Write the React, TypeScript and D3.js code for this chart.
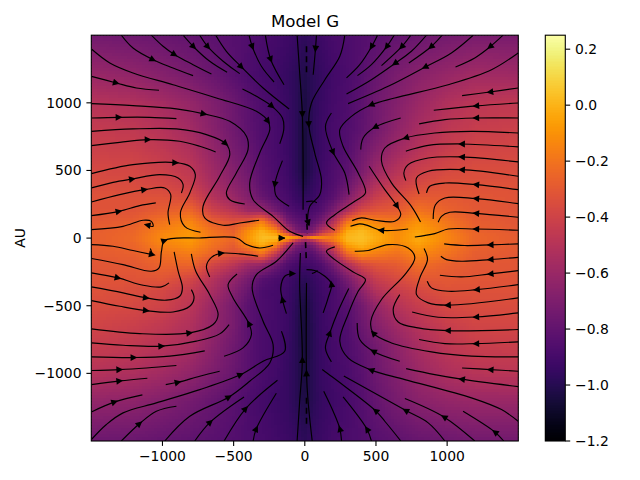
import React, { useMemo } from "react";
import * as d3 from "d3";

type Pt = [number, number];

const gridX = [-1500,-1200,-1000,-800,-650,-500,-400,-300,-200,-120,-60,0,60,120,200,300,400,500,650,800,1000,1200,1500];
const gridY = [1500,1200,1000,800,650,500,400,300,200,120,50,20,0,-20,-50,-120,-200,-300,-400,-500,-650,-800,-1000,-1200,-1500];
const heat = [
[-.74,-.76,-.78,-.80,-.82,-.84,-.86,-.88,-.90,-.92,-.94,-.97,-.94,-.92,-.89,-.87,-.85,-.83,-.80,-.77,-.74,-.72,-.72],
[-.60,-.63,-.67,-.72,-.77,-.83,-.87,-.90,-.92,-.95,-.98,-1.02,-.98,-.95,-.91,-.88,-.84,-.78,-.71,-.66,-.61,-.57,-.58],
[-.50,-.52,-.56,-.62,-.69,-.76,-.82,-.87,-.90,-.94,-.98,-1.04,-.98,-.94,-.90,-.87,-.82,-.75,-.68,-.60,-.52,-.48,-.46],
[-.44,-.46,-.50,-.57,-.66,-.75,-.81,-.86,-.89,-.93,-.98,-1.05,-.98,-.93,-.89,-.86,-.81,-.74,-.64,-.55,-.47,-.43,-.41],
[-.41,-.42,-.46,-.52,-.62,-.72,-.78,-.85,-.89,-.93,-.98,-1.05,-.98,-.93,-.89,-.85,-.76,-.68,-.58,-.50,-.43,-.39,-.38],
[-.37,-.38,-.41,-.47,-.58,-.68,-.75,-.83,-.88,-.92,-.98,-1.05,-.98,-.92,-.87,-.82,-.72,-.60,-.50,-.42,-.37,-.35,-.35],
[-.35,-.36,-.38,-.43,-.55,-.65,-.72,-.82,-.87,-.91,-.96,-1.02,-.96,-.91,-.86,-.78,-.65,-.52,-.44,-.37,-.33,-.33,-.33],
[-.33,-.33,-.33,-.36,-.50,-.60,-.68,-.78,-.85,-.89,-.94,-.97,-.94,-.89,-.83,-.70,-.55,-.43,-.36,-.29,-.30,-.31,-.32],
[-.32,-.32,-.28,-.24,-.40,-.48,-.58,-.60,-.74,-.84,-.88,-.91,-.88,-.84,-.72,-.52,-.36,-.31,-.29,-.20,-.26,-.30,-.32],
[-.30,-.28,-.20,-.14,-.27,-.33,-.28,-.15,-.42,-.72,-.80,-.84,-.82,-.72,-.52,-.20,-.09,-.15,-.19,-.10,-.19,-.28,-.31],
[-.28,-.25,-.15,-.09,-.20,-.27,-.12,.0,-.12,-.48,-.70,-.78,-.70,-.50,-.34,-.03,.02,-.05,-.13,-.05,-.16,-.26,-.30],
[-.28,-.24,-.13,-.08,-.19,-.25,-.1,.02,-.02,-.2,-.45,-.6,-.5,-.3,-.2,.0,.03,-.03,-.12,-.03,-.14,-.25,-.29],
[-.28,-.24,-.13,-.07,-.19,-.25,-.09,.03,.02,-.04,-.08,-.25,-.06,-.12,-.16,.01,.04,-.02,-.12,-.03,-.14,-.25,-.29],
[-.28,-.24,-.13,-.08,-.19,-.25,-.1,.02,-.03,-.2,-.45,-.6,-.5,-.3,-.2,.0,.03,-.03,-.12,-.03,-.14,-.25,-.29],
[-.28,-.25,-.15,-.10,-.2,-.28,-.14,-.01,-.14,-.5,-.7,-.78,-.72,-.52,-.36,-.05,.01,-.06,-.14,-.06,-.16,-.26,-.29],
[-.29,-.27,-.21,-.17,-.25,-.33,-.32,-.2,-.46,-.74,-.82,-.85,-.84,-.74,-.56,-.24,-.12,-.17,-.21,-.13,-.2,-.28,-.3],
[-.31,-.3,-.26,-.25,-.38,-.48,-.58,-.62,-.76,-.86,-.9,-.92,-.9,-.86,-.74,-.54,-.38,-.32,-.29,-.22,-.27,-.3,-.31],
[-.32,-.32,-.31,-.38,-.5,-.62,-.72,-.83,-.88,-.91,-.95,-.98,-.95,-.91,-.86,-.72,-.56,-.43,-.36,-.3,-.3,-.31,-.32],
[-.33,-.35,-.38,-.45,-.55,-.68,-.78,-.88,-.9,-.92,-.97,-1.02,-.97,-.92,-.89,-.8,-.66,-.52,-.44,-.38,-.33,-.33,-.33],
[-.35,-.37,-.4,-.48,-.6,-.72,-.82,-.87,-.9,-.93,-.98,-1.05,-.98,-.93,-.88,-.84,-.74,-.62,-.5,-.43,-.37,-.35,-.35],
[-.39,-.42,-.46,-.52,-.62,-.72,-.82,-.88,-.9,-.93,-.99,-1.06,-.99,-.93,-.9,-.86,-.77,-.68,-.58,-.5,-.43,-.39,-.38],
[-.43,-.46,-.5,-.55,-.65,-.75,-.82,-.88,-.9,-.94,-.99,-1.06,-.99,-.94,-.9,-.87,-.81,-.74,-.64,-.55,-.47,-.43,-.42],
[-.5,-.53,-.57,-.63,-.7,-.77,-.83,-.88,-.91,-.95,-.99,-1.05,-.99,-.94,-.91,-.88,-.83,-.76,-.68,-.6,-.53,-.49,-.48],
[-.62,-.64,-.68,-.73,-.78,-.83,-.87,-.9,-.93,-.95,-.99,-1.03,-.99,-.95,-.92,-.89,-.85,-.79,-.72,-.66,-.62,-.6,-.6],
[-.76,-.77,-.79,-.81,-.83,-.85,-.87,-.89,-.91,-.93,-.95,-.98,-.95,-.93,-.9,-.88,-.86,-.84,-.81,-.78,-.76,-.74,-.74],
];

// streamlines in AU, in flow order; the number is the index of the point carrying the arrowhead
const streamsTopLeft: [number, Pt[]][] = [
[2,[[-1289,1500],[-1207,1405],[-1066,1319],[-926,1258],[-785,1201]]],
[2,[[-1078,1500],[-996,1418],[-914,1356],[-785,1282],[-656,1213]]],
[1,[[-855,1500],[-780,1413],[-668,1307],[-546,1226]]],
[1,[[-738,1500],[-680,1413],[-574,1307],[-457,1216]]],
[2,[[-626,1500],[-551,1381],[-445,1265],[-293,1110],[-110,955]]],
[1,[[-392,1500],[-368,1413],[-305,1270],[-216,1154]]],
[1,[[-277,1500],[-239,1319],[-146,1134]]],
[6,[[-1499,1398],[-1370,1295],[-1207,1221],[-926,1134],[-621,1036],[-340,937],[-258,863],[-246,802],[-317,629],[-387,408],[-363,284],[-223,161],[-106,50],[-12,13]]],
[1,[[-1499,1196],[-1324,1147],[-1183,1110],[-1024,1093]]],
[2,[[-438,1102],[-340,1048],[-230,974],[-157,888],[-148,802],[-176,698]]],
[3,[[-1499,994],[-1207,979],[-902,955],[-708,918],[-527,863],[-410,753],[-399,654],[-481,481],[-551,334],[-527,284],[-422,252]]],
[1,[[-1499,888],[-1305,893],[-1089,893],[-902,883]]],
[4,[[-1499,789],[-1207,807],[-902,807],[-691,765],[-555,698],[-527,617],[-598,457],[-715,235],[-703,149],[-574,95],[-457,112],[-321,132]]],
[2,[[-1499,684],[-1300,708],[-1101,728],[-879,716],[-738,679],[-626,637]]],
[2,[[-1499,477],[-1207,543],[-907,558],[-808,531],[-769,469],[-808,334],[-874,186],[-844,87],[-733,43]]],
[2,[[-1499,371],[-1347,412],[-1211,437],[-1019,469],[-890,445],[-855,395],[-867,334]]],
[2,[[-1499,267],[-1300,321],[-1125,358],[-984,371],[-942,321],[-961,186],[-949,100]]],
[1,[[-1499,166],[-1305,198],[-1160,240],[-1047,260]]],
[5,[[-1499,63],[-1277,87],[-1136,132],[-1078,124],[-1066,87],[-1108,97]]],
[1,[[-157,573],[-211,395],[-200,309],[-110,235]]],
[2,[[-54,1500],[-36,1221],[-17,913],[-12,555],[-12,210]]],
];

const streamsTopRight: [number, Pt[]][] = [
[1,[[82,1500],[75,1398],[59,1208]]],
[4,[[281,1500],[246,1344],[141,1171],[47,999],[28,839],[70,629],[117,432],[105,321],[35,235],[19,136]]],
[1,[[511,1500],[468,1413],[386,1282],[293,1184]]],
[1,[[628,1500],[574,1413],[468,1282],[370,1201]]],
[1,[[745,1500],[679,1413],[539,1275]]],
[2,[[855,1500],[749,1381],[632,1290],[468,1171],[293,1065]]],
[1,[[965,1500],[885,1413],[731,1295]]],
[2,[[1183,1500],[1030,1369],[843,1263],[586,1122],[304,994]]],
[1,[[1393,1500],[1300,1413],[1194,1332],[1059,1265]]],
[4,[[1499,1369],[1312,1245],[1007,1134],[632,1036],[464,984],[328,900],[246,802],[269,679],[375,481],[426,334],[351,272],[211,173],[152,112],[211,58]]],
[1,[[1499,1110],[1300,1080],[1105,1053]]],
[1,[[1499,999],[1201,977],[906,945]]],
[1,[[1499,888],[1201,888],[984,876],[803,844]]],
[1,[[674,888],[492,819],[410,740],[393,654]]],
[3,[[1499,777],[1171,789],[913,777],[707,740],[562,666],[539,568],[609,408],[749,235],[813,119]]],
[1,[[1499,674],[1101,696],[867,686],[710,642]]],
[1,[[1499,563],[1101,600],[867,592],[726,543],[696,481],[710,425]]],
[1,[[1499,457],[1101,506],[867,494],[785,445],[803,326]]],
[1,[[1499,358],[1201,395],[984,407],[878,383],[855,334]]],
[1,[[1499,255],[1201,292],[984,297],[918,247],[902,141]]],
[1,[[1499,154],[1201,183],[1019,191],[960,161],[937,117]]],
[1,[[1499,58],[1201,67],[1007,67],[913,33],[773,8]]],
[2,[[187,925],[145,826],[199,634],[281,481],[311,321]]],
[2,[[452,531],[562,358],[649,235],[674,173],[632,124],[492,132],[398,149],[333,129]]],
[1,[[726,67],[534,58],[445,92],[386,105],[321,87]]],
];

const streamsBottomLeft: [number, Pt[]][] = [
[5,[[-1499,-151],[-1277,-196],[-1078,-245],[-1024,-220],[-1007,-97],[-984,-18],[-738,1],[-480,1],[-410,-48],[-317,-73],[-223,-53]]],
[3,[[-1499,-48],[-1347,-60],[-1207,-92],[-1071,-122]]],
[-1,[[-1085,-77],[-1071,-122]]],
[1,[[-1499,-257],[-1312,-294],[-1136,-349],[-1007,-361],[-954,-331]]],
[2,[[-1499,-361],[-1277,-405],[-1113,-442],[-972,-459],[-879,-430],[-860,-368],[-890,-245],[-918,-102]]],
[2,[[-1499,-462],[-1300,-504],[-1113,-536],[-926,-546],[-808,-504],[-778,-442],[-797,-381]]],
[2,[[-1499,-671],[-1160,-706],[-808,-701],[-644,-639],[-609,-565],[-668,-418],[-766,-245],[-797,-117]]],
[2,[[-1499,-775],[-1277,-792],[-1005,-799],[-762,-762],[-598,-708],[-532,-639]]],
[1,[[-1499,-878],[-1200,-883],[-949,-873],[-703,-834]]],
[1,[[-1499,-979],[-1300,-972],[-1113,-960],[-902,-942]]],
[1,[[-1499,-1083],[-1300,-1056],[-1106,-1036]]],
[1,[[-977,-1083],[-890,-1066],[-738,-1021],[-598,-984]]],
[1,[[-1499,-1285],[-1335,-1211],[-1141,-1159]]],
[5,[[-1499,-1489],[-1394,-1378],[-1277,-1292],[-1043,-1218],[-738,-1120],[-450,-1009],[-293,-910],[-141,-836],[-164,-689]]],
[1,[[-1289,-1500],[-1160,-1371],[-1043,-1280],[-902,-1243]]],
[2,[[-984,-1500],[-808,-1317],[-532,-1174],[-387,-1058],[-246,-923],[-223,-787],[-293,-615],[-370,-368],[-340,-270],[-199,-171],[-82,-36]]],
[1,[[-773,-1500],[-663,-1359],[-427,-1174]]],
[1,[[-567,-1500],[-415,-1260],[-192,-1051]]],
[1,[[-363,-1500],[-340,-1408],[-200,-1147]]],
[3,[[-567,-873],[-434,-812],[-375,-713],[-394,-629],[-504,-442],[-539,-344],[-476,-265]]],
[3,[[-668,-287],[-691,-208],[-656,-142],[-586,-112],[-457,-117],[-328,-134]]],
[1,[[-129,-558],[-157,-454],[-169,-368],[-141,-282],[-78,-262]]],
[2,[[-54,-1500],[-36,-1206],[-17,-898],[-36,-344],[-31,-110]]],
];

const streamsBottomRight: [number, Pt[]][] = [
[1,[[1499,-43],[1302,-50],[1124,-55],[979,-43]]],
[1,[[1499,-142],[1302,-159],[1101,-171],[995,-159],[956,-134]]],
[1,[[1499,-240],[1302,-265],[1101,-287],[949,-275]]],
[1,[[1499,-344],[1206,-381],[1007,-393],[890,-368],[860,-319]]],
[1,[[1499,-442],[1002,-496],[867,-479],[785,-418],[808,-294],[862,-159],[838,-77]]],
[1,[[1499,-553],[1201,-583],[937,-585],[754,-546]]],
[1,[[1499,-676],[1002,-684],[796,-664],[656,-620],[621,-528],[667,-418]]],
[1,[[1499,-767],[1201,-780],[984,-780],[803,-750]]],
[4,[[1499,-878],[1171,-873],[890,-841],[609,-775],[480,-701],[464,-615],[539,-454],[703,-270],[773,-146],[726,-73],[586,-48],[445,-92],[351,-97]]],
[1,[[1499,-984],[1302,-972],[1105,-960]]],
[1,[[1499,-1098],[1101,-1043],[913,-1009],[712,-965]]],
[1,[[667,-910],[480,-836],[386,-750],[368,-627]]],
[4,[[1499,-1354],[1382,-1268],[1171,-1181],[703,-1046],[464,-974],[304,-886],[246,-762],[304,-565],[375,-393],[426,-307],[351,-257],[211,-159],[152,-97],[211,-65]]],
[1,[[1398,-1500],[1335,-1433],[1112,-1280]]],
[1,[[1194,-1500],[977,-1322],[703,-1186]]],
[2,[[984,-1500],[867,-1366],[707,-1273],[274,-1019]]],
[2,[[675,-1500],[562,-1354],[496,-1275],[122,-972]]],
[1,[[468,-1500],[436,-1411],[269,-1174]]],
[1,[[258,-1500],[246,-1408],[199,-1280],[133,-1132]]],
[2,[[187,-915],[145,-812],[176,-701],[234,-541],[309,-373]]],
[2,[[129,-553],[164,-442],[187,-339],[141,-282],[70,-240],[12,-233]]],
[2,[[52,-1500],[23,-1206],[12,-997],[12,-331]]],
];

// tiny streamlines right around the centre
const streamsCentre: [number, Pt[]][] = [
[1,[[-185,0],[-160,0],[-140,0]]],
[1,[[20,130],[25,112],[30,95]]],
[-1,[[10,270],[60,272],[85,262]]],
[-1,[[50,-262],[75,-250],[90,-240]]],
[1,[[-100,-262],[-85,-262],[-70,-262]]],
];

const dashedStreams: Pt[][] = [
[[12,1418],[12,1208]],
[[12,180],[18,30]],
[[5,-30],[10,-150]],
[[12,-1181],[12,-1391]],
];

const xTicks = [-1000,-500,0,500,1000];
const yTicks = [-1000,-500,0,500,1000];
const barTicks = [-1.2,-1.0,-0.8,-0.6,-0.4,-0.2,0.0,0.2];
const chartTitle = "Model G";
const yLabel = "AU";

const L = 91.3, R = 518.3, T = 35.2, B = 441;
const BL = 545.3, BR = 565.3;
const FONT = '"DejaVu Sans", sans-serif';
const fmt = (s: string) => s.replace("-", "\u2212");

export default function App() {
  const x = d3.scaleLinear().domain([-1500, 1500]).range([L, R]);
  const y = d3.scaleLinear().domain([-1500, 1500]).range([B, T]);
  const color = d3.scaleSequential(d3.interpolateInferno).domain([-1.2, 0.25]);
  const barY = d3.scaleLinear().domain([-1.2, 0.25]).range([B, T]);

  const cells = useMemo(() => {
    const ix = d3.scaleLinear().domain(gridX).range(gridX.map((_, i) => i)).clamp(true);
    const iy = d3.scaleLinear().domain(gridY).range(gridY.map((_, i) => i)).clamp(true);
    const out: { px: number; py: number; c: string }[] = [];
    const step = 3;
    for (let py = T; py < B; py += step) {
      for (let px = L; px < R; px += step) {
        const fx = ix(x.invert(px + step / 2));
        const fy = iy(y.invert(py + step / 2));
        const i0 = Math.min(Math.floor(fx), gridX.length - 2);
        const j0 = Math.min(Math.floor(fy), gridY.length - 2);
        const u = fx - i0, v = fy - j0;
        const val =
          heat[j0][i0] * (1 - u) * (1 - v) + heat[j0][i0 + 1] * u * (1 - v) +
          heat[j0 + 1][i0] * (1 - u) * v + heat[j0 + 1][i0 + 1] * u * v;
        out.push({ px, py, c: color(val) });
      }
    }
    return out;
  }, []);

  const line = d3.line<Pt>().x(d => x(d[0])).y(d => y(d[1])).curve(d3.curveCatmullRom.alpha(0.5));
  const streams = [...streamsTopLeft, ...streamsTopRight, ...streamsBottomLeft, ...streamsBottomRight, ...streamsCentre];

  const arrow = (pts: Pt[], k: number) => {
    const a = pts[Math.max(k - 1, 0)], b = pts[Math.min(k + 1, pts.length - 1)], p = pts[k];
    const ang = Math.atan2(y(b[1]) - y(a[1]), x(b[0]) - x(a[0])) * 180 / Math.PI;
    return `translate(${x(p[0])},${y(p[1])}) rotate(${ang})`;
  };

  const barSteps = d3.range(0, 256).map(i => -1.2 + (1.45 * i) / 256);

  return (
    <svg width={640} height={480} style={{ position: "absolute", left: 0, top: 0, background: "#fff" }} fontFamily={FONT}>
      <defs>
        <clipPath id="ax"><rect x={L} y={T} width={R - L} height={B - T} /></clipPath>
      </defs>
      <g clipPath="url(#ax)">
        <g shapeRendering="crispEdges">
          {cells.map((d, i) => <rect key={i} x={d.px} y={d.py} width={3.4} height={3.4} fill={d.c} />)}
        </g>
        <g fill="none" stroke="#000" strokeWidth={1.15}>
          {streams.map((s, i) => <path key={i} d={line(s[1]) as string} />)}
          {dashedStreams.map((s, i) => <path key={i} d={line(s) as string} strokeDasharray="6 4" strokeWidth={1.6} />)}
        </g>
        <g fill="#000">
          {streams.filter(s => s[0] >= 0).map((s, i) => (
            <path key={i} d="M3.4,0 L-3.4,-3.4 L-3.4,3.4 Z" transform={arrow(s[1], s[0])} />
          ))}
        </g>
      </g>
      <rect x={L} y={T} width={R - L} height={B - T} fill="none" stroke="#000" strokeWidth={1.1} />
      {xTicks.map(t => (
        <g key={t}>
          <line x1={x(t)} x2={x(t)} y1={B} y2={B + 4.9} stroke="#000" strokeWidth={1.1} />
          <text x={x(t)} y={461} textAnchor="middle" fontSize={13.9}>{fmt(String(t))}</text>
        </g>
      ))}
      {yTicks.map(t => (
        <g key={t}>
          <line x1={L - 4.9} x2={L} y1={y(t)} y2={y(t)} stroke="#000" strokeWidth={1.1} />
          <text x={81.5} y={y(t) + 5} textAnchor="end" fontSize={13.9}>{fmt(String(t))}</text>
        </g>
      ))}
      <text transform="translate(25,238) rotate(-90)" textAnchor="middle" fontSize={13.9}>{yLabel}</text>
      <text x={305} y={27} textAnchor="middle" fontSize={16.67}>{chartTitle}</text>
      <g shapeRendering="crispEdges">
        {barSteps.map((v, i) => (
          <rect key={i} x={BL} width={BR - BL} y={barY(v + 1.45 / 256) - 0.3} height={(B - T) / 256 + 0.6} fill={color(v + 1.45 / 512)} />
        ))}
      </g>
      <rect x={BL} y={T} width={BR - BL} height={B - T} fill="none" stroke="#000" strokeWidth={1.1} />
      {barTicks.map(t => (
        <g key={t}>
          <line x1={BR} x2={BR + 4.9} y1={barY(t)} y2={barY(t)} stroke="#000" strokeWidth={1.1} />
          <text x={575} y={barY(t) + 5} fontSize={13.9}>{fmt(t.toFixed(1))}</text>
        </g>
      ))}
    </svg>
  );
}
